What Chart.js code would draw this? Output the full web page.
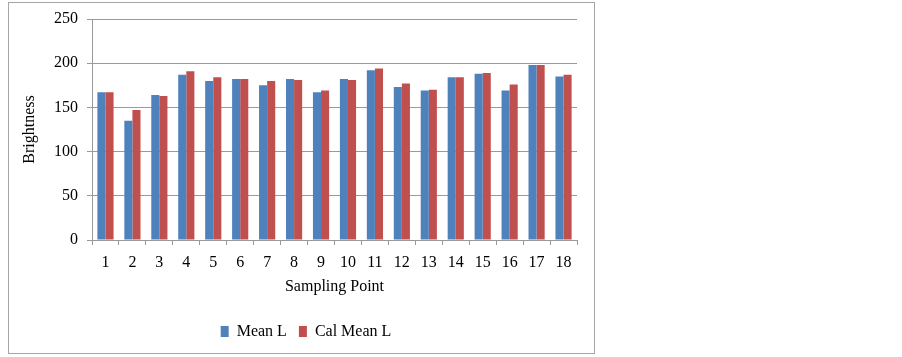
<!DOCTYPE html>
<html>
<head>
<meta charset="utf-8">
<script src="https://cdn.jsdelivr.net/npm/chart.js@4/dist/chart.umd.min.js"></script>
<style>
  body { margin: 0; background: #fff; }
  #frame { position: absolute; left: 8px; top: 2px; width: 585px; height: 350px; border: 1px solid #a6a6a6; }
  #wrap { position: absolute; left: 0; top: 0; width: 612px; height: 357px; }
</style>
</head>
<body>
<div id="frame"></div>
<div id="wrap"><canvas id="chart1" width="612" height="357"></canvas></div>
<script>
const pontos = ['1', '2', '3', '4', '5', '6', '7', '8', '9', '10', '11', '12', '13', '14', '15', '16', '17', '18'];
const meanL = [167, 135, 164, 187, 180, 182, 175, 182, 167, 182, 192, 173, 169, 184, 188, 169, 198, 185];
const calMeanL = [167, 147, 163, 191, 184, 182, 180, 181, 169, 181, 194, 177, 170, 184, 189, 176, 198, 187];
const yTicks = [0, 50, 100, 150, 200, 250];

const fonte = { family: "'Liberation Serif', 'Times New Roman', serif", size: 16 };
const cinza = '#9a9a9a';

var ctx1 = document.getElementById("chart1").getContext("2d");
var chart1 = new Chart(ctx1, {
    type: "bar",
    data: {
        labels: pontos,
        datasets: [{
            label: "Mean L",
            data: meanL,
            backgroundColor: "#4F81BD",
            borderWidth: 0,
            categoryPercentage: 0.6,
            barPercentage: 1.0
        }, {
            label: "Cal Mean L",
            data: calMeanL,
            backgroundColor: "#C0504D",
            borderWidth: 0,
            categoryPercentage: 0.6,
            barPercentage: 1.0
        }]
    },
    options: {
        responsive: false,
        animation: false,
        layout: { padding: { top: 19, left: 0, right: 0, bottom: 7.5 } },
        plugins: {
            tooltip: { enabled: false },
            legend: {
                position: 'bottom',
                labels: {
                    color: '#000',
                    font: fonte,
                    boxWidth: 8,
                    boxHeight: 11,
                    padding: 12
                }
            }
        },
        scales: {
            x: {
                grid: { display: true, drawOnChartArea: false, offset: true, tickLength: 5, color: cinza },
                border: { color: cinza },
                ticks: { color: '#000', font: fonte, padding: 8, maxRotation: 0 },
                title: { display: true, text: 'Sampling Point', color: '#000', font: fonte, padding: { top: 0, bottom: 15 } },
                afterFit: function (s) { s.height = 71.5; }
            },
            y: {
                min: 0,
                max: 250,
                afterBuildTicks: function (s) { s.ticks = yTicks.map(v => ({ value: v })); },
                grid: { color: cinza, tickLength: 5 },
                border: { color: cinza },
                ticks: { color: '#000', font: fonte, padding: 9 },
                title: { display: true, text: 'Brightness', color: '#000', font: fonte, padding: { top: 20, bottom: 0 } },
                afterFit: function (s) { s.width = 92; }
            },
            y2: {
                position: 'right',
                display: true,
                grid: { display: false },
                border: { display: false },
                ticks: { display: false },
                afterFit: function (s) { s.width = 35; }
            }
        }
    }
});
</script>
</body>
</html>
